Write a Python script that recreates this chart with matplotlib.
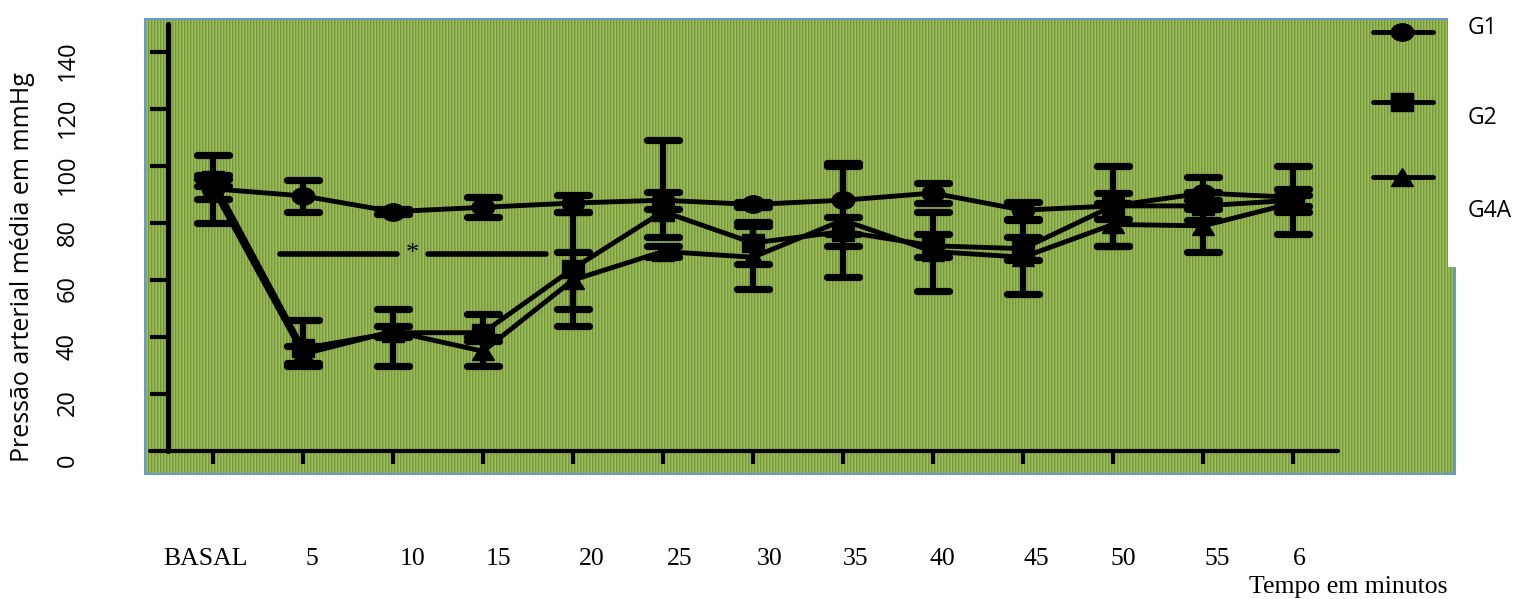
import numpy as np
import matplotlib
matplotlib.use("Agg")
import matplotlib.pyplot as plt
from matplotlib.markers import MarkerStyle
from matplotlib.transforms import Affine2D

# ---- data -------------------------------------------------------------
categories = ["BASAL", "5", "10", "15", "20", "25", "30", "35", "40", "45", "50", "55", "6"]
series_names = ["G1", "G2", "G4A"]

g1_mean = [92, 89.5, 84, 85.5, 87, 88, 86.5, 88, 90.5, 84.5, 86, 90.5, 89]
g1_err_lo = [12, 5.5, 1, 3.5, 3, 3, 1, 12, 3.5, 3, 4.5, 5.5, 3]
g1_err_hi = [12, 5.5, 1, 3.5, 3, 3, 1, 12, 3.5, 3, 4.5, 5.5, 3]

g2_mean = [95, 36, 41.5, 41.5, 64, 84, 73, 77, 72, 71, 86, 86, 88]
g2_err_lo = [2, 6, 11.5, 3, 20, 9, 7.5, 5, 4, 4, 14, 5, 12]
g2_err_hi = [2, 10, 8.5, 6.5, 20, 25, 7.5, 5, 4, 4, 14, 5, 12]

g4a_mean = [92, 34, 42, 35, 60, 70, 68, 81, 70, 68, 79.5, 79, 87]
g4a_err_lo = [3.5, 3, 2, 5, 10, 2, 11, 20, 14, 13, 7.5, 9, 3]
g4a_err_hi = [3.5, 3, 2, 5, 10, 2, 11, 20, 14, 13, 7.5, 9, 3]

y_ticks = [0, 20, 40, 60, 80, 100, 120, 140]
sig_level = 69

# ---- figure ------------------------------------------------------------
W, H, DPI = 1520, 599, 100
fig = plt.figure(figsize=(W / DPI, H / DPI), dpi=DPI)

# striped green plot area with thin blue frame (pixel background)
bg = np.zeros((H, W, 4))
light = np.array([156, 190, 90]) / 255
dark = np.array([120, 150, 62]) / 255
mid = 0.6 * light + 0.4 * dark
cols = np.arange(W) % 3
stripe = np.where(cols[:, None] == 0, light, np.where(cols[:, None] == 1, dark, mid))
bg[20:473, 146:1448, :3] = stripe[146:1448]
bg[20:473, 146:1448, 3] = 1
bg[267:473, 1448:1455, :3] = stripe[1448:1455]
bg[267:473, 1448:1455, 3] = 1
blue = np.array([100, 152, 214, 255]) / 255
bg[18:20, 145:1448] = blue
bg[473:475, 145:1456] = blue
bg[18:475, 144:146] = blue
bg[267:475, 1454:1456] = blue
fig.figimage(bg, xo=0, yo=0, origin="upper", zorder=-10)

# main axes: x index 0 at 213 px, 90 px per step; y 0 at 451 px, 2.85 px/unit
x_left_px, x_right_px = 150, 1338
ax = fig.add_axes([x_left_px / W, (H - 451) / H, (x_right_px - x_left_px) / W, 150 * 2.85 / H])
ax.set_facecolor("none")
ax.set_xlim(-0.7, 12.5)
ax.set_ylim(0, 150)
x = np.arange(len(categories))

for s in ("top", "right"):
    ax.spines[s].set_visible(False)
ax.spines["left"].set_position(("data", -0.5))
ax.spines["left"].set_linewidth(3.8)
ax.spines["bottom"].set_linewidth(3.0)
for s in ("left", "bottom"):
    ax.spines[s].set_capstyle("round")
ax.set_xticks(x)
ax.set_yticks(y_ticks[1:])
ax.tick_params(axis="y", length=13, width=3, direction="out", labelleft=False)
ax.tick_params(axis="x", length=9, width=3, direction="out", labelbottom=False)

round_cap = MarkerStyle("_", capstyle="round")
wide = Affine2D().scale(1.3, 1.0)
markers = [MarkerStyle("o", transform=wide), MarkerStyle("s", transform=wide),
           MarkerStyle("^", transform=wide)]

series = [
    (g1_mean, g1_err_lo, g1_err_hi),
    (g2_mean, g2_err_lo, g2_err_hi),
    (g4a_mean, g4a_err_lo, g4a_err_hi),
]
for (mean, lo, hi), mk, name in zip(series, markers, series_names):
    eb = ax.errorbar(x, mean, yerr=[lo, hi], fmt="none", ecolor="black",
                     elinewidth=4.5, capsize=11.5, capthick=5.2, zorder=3)
    for cap in eb[1]:
        cap.set_marker(round_cap)
    ax.plot(x, mean, color="black", lw=3.5, marker=mk, ms=12.5,
            mfc="black", mec="black", solid_capstyle="round",
            solid_joinstyle="round", zorder=4, label=name)

# significance bar with asterisk
ax.plot([0.74, 2.04], [sig_level, sig_level], color="black", lw=4,
        solid_capstyle="round", zorder=3)
ax.plot([2.39, 3.70], [sig_level, sig_level], color="black", lw=4,
        solid_capstyle="round", zorder=3)
ax.text(2.21, sig_level, "*", ha="center", va="center", fontsize=19,
        family="Liberation Serif", zorder=3)

# x tick labels (serif, individually nudged as in the source layout)
x_nudge_px = [-7, 9, 20, 15, 19, 17, 17, 13, 9, 13, 10, 14, 6]
for xi, lab, dx in zip(x, categories, x_nudge_px):
    ax.annotate(lab, xy=(xi, 0), xycoords="data",
                xytext=(dx * 72 / DPI, -114 * 72 / DPI), textcoords="offset points",
                ha="center", va="baseline", fontsize=18.5, family="Liberation Serif")

# y tick labels, rotated
for v in y_ticks:
    ax.annotate(str(v), xy=(-0.5, v), xycoords="data",
                xytext=(-100 * 72 / DPI, -9 * 72 / DPI), textcoords="offset points",
                ha="center", va="center", rotation=90, fontsize=17,
                family="Open Sans")

# overlay in pixel units for axis titles and legend
ov = fig.add_axes([0, 0, 1, 1])
ov.set_xlim(0, W)
ov.set_ylim(H, 0)
ov.axis("off")
ov.set_facecolor("none")

ov.text(23, 267, "Pressão arterial média em mmHg", rotation=90, ha="center",
        va="center", fontsize=18, family="Open Sans")
ov.text(1348, 593, "Tempo em minutos", ha="center", va="baseline",
        fontsize=18.5, family="Liberation Serif")

legend_y = [32, 102, 177]
legend_text_y = [28, 118, 211]
for mk, name, ly, ty in zip(markers, series_names, legend_y, legend_text_y):
    ov.plot([1373, 1433], [ly, ly], color="black", lw=3.5, solid_capstyle="round")
    ov.plot([1402], [ly], marker=mk, ms=12.5, mfc="black", mec="black", color="black")
    ov.text(1468, ty, name, ha="left", va="center", fontsize=16.5, family="Open Sans")

fig.savefig("out.png", dpi=DPI)
